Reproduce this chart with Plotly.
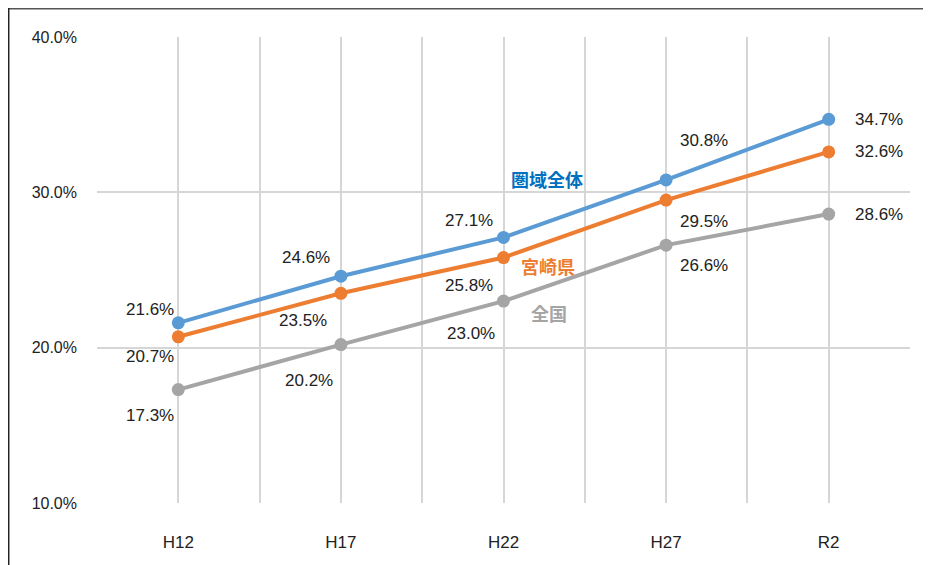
import plotly.graph_objects as go

categories = ["H12", "H17", "H22", "H27", "R2"]
series_names = ["圏域全体", "宮崎県", "全国"]
area_values = [21.6, 24.6, 27.1, 30.8, 34.7]
pref_values = [20.7, 23.5, 25.8, 29.5, 32.6]
nation_values = [17.3, 20.2, 23.0, 26.6, 28.6]
y_ticks = [10, 20, 30, 40]

colors = ["#5B9BD5", "#ED7D31", "#A5A5A5"]
name_colors = ["#0070C0", "#ED7D31", "#A5A5A5"]
all_values = [area_values, pref_values, nation_values]

# label pixel offsets (dx, dy) per series per point
offsets = [
    [(-28, 13), (-35, 19), (-35, 17), (38, 39), (50, 0)],
    [(-28, -20), (-38, -27), (-35, -28), (38, -21), (50, 0)],
    [(-28, -26), (-32, -36), (-33, -32), (38, -20), (50, 0)],
]

font_family = "Liberation Sans, Arial, sans-serif"
cjk_font = "Noto Sans CJK JP, sans-serif"

fig = go.Figure()
xs = list(range(len(categories)))
for name, vals, col in zip(series_names, all_values, colors):
    fig.add_trace(go.Scatter(
        x=xs, y=vals, mode="lines+markers", name=name,
        line=dict(color=col, width=4),
        marker=dict(color=col, size=13),
        showlegend=False,
    ))

annotations = []
for s, vals in enumerate(all_values):
    for i, v in enumerate(vals):
        dx, dy = offsets[s][i]
        annotations.append(dict(
            x=xs[i], y=v, text=f"{v:.1f}%", showarrow=False,
            xshift=dx, yshift=dy,
            font=dict(family=font_family, size=17, color="#222222"),
        ))

# series name labels
name_pos = [(2, 30.86, 43), (2, 25.26, 44), (2, 22.23, 45)]
for s, (xi, yv, dx) in enumerate(name_pos):
    annotations.append(dict(
        x=xi, y=yv, text=f"<b>{series_names[s]}</b>", showarrow=False,
        xshift=dx, font=dict(family=cjk_font, size=18, color=name_colors[s]),
    ))

tickvals_x = [i * 0.5 - 0.5 for i in range(2 * len(categories) + 1)]
ticktext_x = [categories[int(t)] if float(t).is_integer() else "" for t in tickvals_x]

fig.update_layout(
    width=923, height=557,
    margin=dict(l=89, r=21, t=29, b=62),
    paper_bgcolor="white", plot_bgcolor="white",
    annotations=annotations,
    xaxis=dict(
        range=[-0.5, 4.5], tickvals=tickvals_x, ticktext=ticktext_x,
        showgrid=True, gridcolor="#D6D6D6", gridwidth=2,
        zeroline=False, showline=False, ticks="",
        ticklabelstandoff=27,
        tickfont=dict(family=font_family, size=17, color="#222222"),
    ),
    yaxis=dict(
        range=[10, 40], tickvals=y_ticks,
        ticktext=[f"{t:.1f}%" for t in y_ticks],
        showgrid=True, gridcolor="#D6D6D6", gridwidth=2,
        zeroline=False, showline=False, ticks="",
        ticklabelstandoff=19,
        tickfont=dict(family=font_family, size=16, color="#222222"),
    ),
    shapes=[
        dict(type="line", xref="paper", yref="paper",
             x0=-0.1095, x1=1.03, y0=1.0612, y1=1.0612,
             line=dict(color="#555555", width=2)),
        dict(type="line", xref="paper", yref="paper",
             x0=-0.1089, x1=-0.1089, y0=1.0622, y1=-0.14,
             line=dict(color="#222222", width=2)),
    ],
)

fig.write_html("out.html")
